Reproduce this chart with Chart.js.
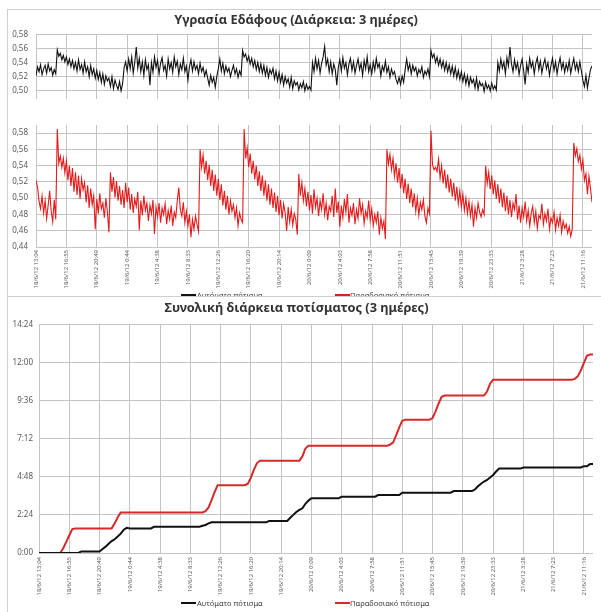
<!DOCTYPE html>
<html>
<head>
<meta charset="utf-8">
<script src="https://cdn.jsdelivr.net/npm/chart.js@4.4.0/dist/chart.umd.min.js"></script>
<style>
  body { margin: 0; width: 601px; height: 612px; overflow: hidden; position: relative; background: #fff; font-family: "Noto Sans", sans-serif; }
  .panel { position: absolute; left: 7px; width: 600px; border-left: 1px solid #cfcfcf; border-top: 1px solid #cfcfcf; background: #fff; }
  #panel1 { top: 9px; height: 290px; z-index: 0; }
  #panel2 { top: 296px; height: 320px; z-index: 2; }
  canvas { position: absolute; left: 0; }
  .legend { position: absolute; font-size: 7.5px; color: #404040; white-space: nowrap; line-height: 10px; }
  .legend .ln { position: absolute; top: 4px; width: 15px; height: 2px; }
  .legend .tx { position: absolute; top: 0; }
</style>
</head>
<body>
<div class="panel" id="panel1"></div>
<canvas id="moistAuto" width="601" height="112" style="top:0; z-index:1"></canvas>
<canvas id="moistTrad" width="601" height="179" style="top:112px; z-index:1"></canvas>
<div class="legend" style="top:290px; left:0; z-index:1">
  <span class="ln" style="left:181px; background:#111"></span><span class="tx" style="left:197px">Αυτόματο πότισμα</span>
  <span class="ln" style="left:335px; background:#e31b1b"></span><span class="tx" style="left:350px">Παραδοσιακό πότισμα</span>
</div>
<div class="panel" id="panel2"></div>
<canvas id="totalChart" width="601" height="299" style="top:298px; z-index:3"></canvas>
<div class="legend" style="top:598px; left:0; z-index:3">
  <span class="ln" style="left:181px; background:#111"></span><span class="tx" style="left:197px">Αυτόματο πότισμα</span>
  <span class="ln" style="left:335px; background:#d42a2a"></span><span class="tx" style="left:350px">Παραδοσιακό πότισμα</span>
</div>
<script>
const tickLabels = [
  "18/6/12 13:04", "18/6/12 16:55", "18/6/12 20:49", "19/6/12 0:44", "19/6/12 4:38",
  "19/6/12 8:33", "19/6/12 12:26", "19/6/12 16:20", "19/6/12 20:14", "20/6/12 0:09",
  "20/6/12 4:03", "20/6/12 7:58", "20/6/12 11:51", "20/6/12 15:45", "20/6/12 19:39",
  "20/6/12 23:33", "21/6/12 3:28", "21/6/12 7:23", "21/6/12 11:16"
];
// moisture readings: 20 per labelled interval, watering totals: 10 per interval
const moistPerTick = 20;
const totalPerTick = 10;

// soil moisture, automatic irrigation
const moistureAuto = [
  0.521, 0.534, 0.527, 0.537, 0.523, 0.531, 0.536, 0.525, 0.538, 0.528, 0.533, 0.522, 0.530, 0.524, 0.558, 0.549, 0.553, 0.544, 0.550, 0.541,
  0.548, 0.537, 0.545, 0.534, 0.543, 0.531, 0.540, 0.528, 0.544, 0.530, 0.537, 0.525, 0.541, 0.527, 0.534, 0.520, 0.536, 0.523, 0.531, 0.518,
  0.529, 0.516, 0.526, 0.512, 0.524, 0.509, 0.521, 0.514, 0.518, 0.506, 0.520, 0.503, 0.515, 0.508, 0.502, 0.513, 0.500, 0.510, 0.533, 0.541,
  0.528, 0.545, 0.531, 0.548, 0.525, 0.540, 0.562, 0.532, 0.546, 0.527, 0.541, 0.522, 0.544, 0.530, 0.537, 0.508, 0.540, 0.526, 0.548, 0.533,
  0.543, 0.524, 0.539, 0.547, 0.529, 0.536, 0.521, 0.545, 0.531, 0.540, 0.526, 0.548, 0.534, 0.542, 0.523, 0.538, 0.530, 0.546, 0.527, 0.535,
  0.515, 0.534, 0.544, 0.528, 0.541, 0.530, 0.536, 0.524, 0.539, 0.527, 0.533, 0.521, 0.529, 0.518, 0.508, 0.522, 0.512, 0.519, 0.505, 0.520,
  0.531, 0.545, 0.528, 0.539, 0.524, 0.535, 0.527, 0.532, 0.520, 0.529, 0.536, 0.524, 0.531, 0.519, 0.528, 0.522, 0.557, 0.548, 0.552, 0.542,
  0.549, 0.538, 0.546, 0.534, 0.543, 0.530, 0.540, 0.527, 0.538, 0.525, 0.536, 0.522, 0.533, 0.519, 0.530, 0.524, 0.532, 0.517, 0.528, 0.514,
  0.526, 0.512, 0.523, 0.508, 0.520, 0.511, 0.517, 0.505, 0.519, 0.503, 0.514, 0.508, 0.512, 0.501, 0.510, 0.504, 0.513, 0.500, 0.509, 0.502,
  0.506, 0.501, 0.540, 0.527, 0.546, 0.531, 0.543, 0.525, 0.539, 0.548, 0.563, 0.536, 0.545, 0.527, 0.541, 0.524, 0.538, 0.530, 0.508, 0.533,
  0.544, 0.528, 0.547, 0.532, 0.540, 0.523, 0.538, 0.546, 0.529, 0.541, 0.525, 0.536, 0.545, 0.530, 0.539, 0.522, 0.543, 0.531, 0.548, 0.527,
  0.537, 0.524, 0.541, 0.529, 0.546, 0.533, 0.539, 0.521, 0.535, 0.528, 0.542, 0.526, 0.534, 0.519, 0.531, 0.523, 0.527, 0.516, 0.510, 0.519,
  0.509, 0.521, 0.512, 0.530, 0.545, 0.529, 0.538, 0.524, 0.536, 0.528, 0.533, 0.521, 0.530, 0.525, 0.534, 0.519, 0.528, 0.523, 0.531, 0.520,
  0.557, 0.547, 0.552, 0.540, 0.548, 0.536, 0.545, 0.533, 0.542, 0.529, 0.540, 0.527, 0.537, 0.524, 0.535, 0.521, 0.533, 0.518, 0.529, 0.516,
  0.527, 0.513, 0.524, 0.510, 0.521, 0.507, 0.519, 0.511, 0.516, 0.504, 0.518, 0.502, 0.513, 0.507, 0.510, 0.499, 0.512, 0.503, 0.508, 0.500,
  0.511, 0.502, 0.507, 0.501, 0.540, 0.528, 0.545, 0.532, 0.541, 0.524, 0.547, 0.535, 0.562, 0.538, 0.527, 0.544, 0.531, 0.540, 0.523, 0.536,
  0.545, 0.528, 0.509, 0.538, 0.526, 0.546, 0.533, 0.541, 0.524, 0.539, 0.547, 0.530, 0.542, 0.525, 0.537, 0.545, 0.531, 0.540, 0.522, 0.536,
  0.546, 0.529, 0.541, 0.524, 0.537, 0.547, 0.531, 0.540, 0.526, 0.538, 0.529, 0.543, 0.525, 0.536, 0.546, 0.530, 0.539, 0.527, 0.541, 0.528,
  0.515, 0.506, 0.522, 0.504, 0.518, 0.530, 0.535
];

// soil moisture, traditional irrigation
const moistureTrad = [
  0.522, 0.514, 0.496, 0.487, 0.503, 0.482, 0.497, 0.475, 0.491, 0.509, 0.484, 0.471, 0.498, 0.474, 0.585, 0.543, 0.552, 0.538, 0.549, 0.531,
  0.546, 0.522, 0.540, 0.515, 0.537, 0.508, 0.532, 0.504, 0.528, 0.499, 0.524, 0.510, 0.519, 0.495, 0.516, 0.488, 0.512, 0.492, 0.503, 0.462,
  0.499, 0.481, 0.506, 0.487, 0.494, 0.476, 0.500, 0.483, 0.458, 0.532, 0.508, 0.526, 0.501, 0.521, 0.497, 0.515, 0.492, 0.510, 0.488, 0.519,
  0.495, 0.513, 0.486, 0.505, 0.482, 0.499, 0.490, 0.508, 0.461, 0.497, 0.479, 0.503, 0.485, 0.494, 0.472, 0.491, 0.481, 0.498, 0.456, 0.489,
  0.477, 0.494, 0.470, 0.488, 0.480, 0.493, 0.468, 0.485, 0.474, 0.491, 0.466, 0.483, 0.476, 0.497, 0.513, 0.486, 0.478, 0.495, 0.470, 0.484,
  0.466, 0.480, 0.452, 0.474, 0.462, 0.478, 0.468, 0.459, 0.560, 0.538, 0.553, 0.530, 0.546, 0.522, 0.541, 0.515, 0.535, 0.509, 0.529, 0.503,
  0.524, 0.498, 0.517, 0.491, 0.509, 0.486, 0.503, 0.480, 0.497, 0.484, 0.492, 0.476, 0.488, 0.466, 0.482, 0.474, 0.470, 0.585, 0.549, 0.562,
  0.538, 0.555, 0.530, 0.546, 0.523, 0.540, 0.515, 0.533, 0.509, 0.528, 0.503, 0.522, 0.497, 0.517, 0.492, 0.512, 0.488, 0.507, 0.483, 0.503,
  0.479, 0.498, 0.475, 0.493, 0.482, 0.460, 0.489, 0.471, 0.486, 0.467, 0.481, 0.474, 0.455, 0.530, 0.503, 0.519, 0.497, 0.512, 0.490, 0.508,
  0.485, 0.504, 0.481, 0.511, 0.489, 0.500, 0.478, 0.497, 0.486, 0.506, 0.480, 0.494, 0.473, 0.490, 0.484, 0.503, 0.477, 0.512, 0.482, 0.496,
  0.465, 0.491, 0.476, 0.499, 0.483, 0.505, 0.470, 0.488, 0.479, 0.494, 0.468, 0.486, 0.475, 0.500, 0.481, 0.492, 0.469, 0.484, 0.476, 0.497,
  0.473, 0.487, 0.466, 0.480, 0.470, 0.484, 0.455, 0.476, 0.463, 0.472, 0.450, 0.560, 0.542, 0.554, 0.535, 0.549, 0.527, 0.543, 0.519, 0.537,
  0.512, 0.530, 0.506, 0.524, 0.499, 0.518, 0.494, 0.512, 0.489, 0.506, 0.484, 0.500, 0.479, 0.495, 0.486, 0.498, 0.478, 0.470, 0.488, 0.481,
  0.583, 0.541, 0.535, 0.538, 0.533, 0.548, 0.525, 0.540, 0.518, 0.535, 0.512, 0.529, 0.507, 0.524, 0.502, 0.519, 0.497, 0.514, 0.493, 0.509,
  0.489, 0.505, 0.485, 0.500, 0.481, 0.496, 0.478, 0.492, 0.465, 0.488, 0.476, 0.494, 0.483, 0.477, 0.486, 0.480, 0.540, 0.518, 0.532, 0.511,
  0.528, 0.505, 0.522, 0.499, 0.517, 0.494, 0.512, 0.489, 0.507, 0.484, 0.503, 0.480, 0.498, 0.477, 0.494, 0.486, 0.505, 0.474, 0.491, 0.470,
  0.488, 0.477, 0.496, 0.472, 0.485, 0.466, 0.482, 0.490, 0.470, 0.484, 0.463, 0.479, 0.475, 0.493, 0.468, 0.481, 0.472, 0.487, 0.462, 0.476,
  0.470, 0.483, 0.461, 0.476, 0.466, 0.479, 0.458, 0.472, 0.463, 0.468, 0.457, 0.465, 0.453, 0.462, 0.568, 0.552, 0.561, 0.545, 0.553, 0.536,
  0.547, 0.522, 0.530, 0.505, 0.527, 0.512, 0.495
];

// cumulative watering time in minutes
const totalAuto = [
  0, 0, 0, 0, 0, 0, 0, 0, 0, 0,
  0, 0, 0, 0, 6, 6, 6, 6, 6, 6,
  6, 15, 24, 35, 45, 52, 62, 73, 88, 95,
  93, 93, 93, 93, 93, 93, 93, 93, 99, 99,
  99, 99, 99, 99, 99, 99, 99, 99, 99, 99,
  99, 99, 99, 99, 103, 106, 112, 116, 116, 116,
  116, 116, 116, 116, 116, 116, 116, 116, 116, 116,
  116, 116, 116, 116, 116, 116, 121, 121, 121, 121,
  121, 121, 121, 133, 144, 155, 163, 169, 186, 198,
  207, 207, 207, 207, 207, 207, 207, 207, 207, 207,
  213, 213, 213, 213, 213, 213, 213, 213, 213, 213,
  213, 213, 219, 219, 219, 219, 219, 219, 219, 219,
  228, 228, 228, 228, 228, 228, 228, 228, 228, 228,
  228, 228, 228, 228, 228, 228, 228, 234, 234, 234,
  234, 234, 234, 234, 240, 252, 262, 270, 276, 285,
  295, 308, 319, 319, 319, 319, 319, 319, 319, 319,
  323, 323, 323, 323, 323, 323, 323, 323, 323, 323,
  323, 323, 323, 323, 323, 323, 323, 323, 323, 323,
  328, 328, 336, 336
];
const totalTrad = [
  0, 0, 0, 0, 0, 0, 0, 0, 18, 42,
  66, 90, 93, 93, 93, 93, 93, 93, 93, 93,
  93, 93, 93, 93, 93, 112, 135, 153, 153, 153,
  153, 153, 153, 153, 153, 153, 153, 153, 153, 153,
  153, 153, 153, 153, 153, 153, 153, 153, 153, 153,
  153, 153, 153, 153, 153, 158, 172, 200, 230, 256,
  256, 256, 256, 256, 256, 256, 256, 256, 256, 262,
  285, 315, 340, 349, 349, 349, 349, 349, 349, 349,
  349, 349, 349, 349, 349, 349, 349, 365, 395, 405,
  405, 405, 405, 405, 405, 405, 405, 405, 405, 405,
  405, 405, 405, 405, 405, 405, 405, 405, 405, 405,
  405, 405, 405, 405, 405, 405, 410, 418, 445, 475,
  500, 504, 504, 504, 504, 504, 504, 504, 504, 504,
  510, 535, 565, 590, 595, 595, 595, 595, 595, 595,
  595, 595, 595, 595, 595, 595, 595, 595, 610, 640,
  655, 655, 655, 655, 655, 655, 655, 655, 655, 655,
  655, 655, 655, 655, 655, 655, 655, 655, 655, 655,
  655, 655, 655, 655, 655, 655, 655, 658, 668, 690,
  718, 745, 750, 750
];

// sample positions on a linear x axis
const moistIndex = moistureAuto.map((v, i) => i);
const totalIndex = totalAuto.map((v, i) => i);

const gridGray = '#c4c4c4';
const tickFont = { family: 'Noto Sans', size: 8 };
const xFont = { family: 'Noto Sans', size: 6 };
const titleFont = { family: 'Noto Sans', size: 12.8, weight: 'bold' };
const comma = v => v.toFixed(2).replace('.', ',');
const hhmm = v => Math.floor(v / 60) + ':' + String(v % 60).padStart(2, '0');

function xAxis(perTick, last, showLabels, height, pad) {
  return {
    type: 'linear', min: 0, max: last,
    ticks: {
      display: showLabels, stepSize: perTick, includeBounds: false, autoSkip: false,
      minRotation: 90, maxRotation: 90, font: xFont, color: '#595959', padding: pad,
      callback: v => tickLabels[Math.round(v / perTick)]
    },
    grid: { color: gridGray, drawTicks: false },
    border: { display: false },
    afterFit: s => { s.height = height; }
  };
}

function lineSet(label, data, color, width) {
  return { label: label, data: data, borderColor: color, borderWidth: width, pointRadius: 0, tension: 0, fill: false };
}

const common = { responsive: false, animation: false, events: [] };

new Chart(document.getElementById('moistAuto'), {
  type: 'line',
  data: { labels: moistIndex, datasets: [lineSet('Αυτόματο πότισμα', moistureAuto, '#111', 1.1)] },
  options: Object.assign({}, common, {
    layout: { padding: { left: 0, right: 9, top: 0, bottom: 2 } },
    plugins: {
      legend: { display: false },
      tooltip: { enabled: false },
      title: { display: true, text: 'Υγρασία Εδάφους (Διάρκεια: 3 ημέρες)', font: titleFont, color: '#333', padding: { top: 13, bottom: 6 } }
    },
    scales: {
      x: xAxis(moistPerTick, moistIndex.length - 1, false, 0, 0),
      y: {
        min: 0.488, max: 0.58,
        ticks: { stepSize: 0.02, includeBounds: false, callback: comma, font: tickFont, color: '#595959', padding: 8 },
        grid: { color: gridGray, drawTicks: false }, border: { display: false },
        afterFit: s => { s.width = 36; }
      }
    }
  })
});

new Chart(document.getElementById('moistTrad'), {
  type: 'line',
  data: { labels: moistIndex, datasets: [lineSet('Παραδοσιακό πότισμα', moistureTrad, '#e31b1b', 1.1)] },
  options: Object.assign({}, common, {
    layout: { padding: { left: 0, right: 9, top: 13, bottom: 0 } },
    plugins: { legend: { display: false }, tooltip: { enabled: false } },
    scales: {
      x: xAxis(moistPerTick, moistIndex.length - 1, true, 44, 3),
      y: {
        min: 0.44, max: 0.59,
        ticks: { stepSize: 0.02, includeBounds: false, callback: comma, font: tickFont, color: '#595959', padding: 8 },
        grid: { color: gridGray, drawTicks: false }, border: { display: false },
        afterFit: s => { s.width = 36; }
      }
    }
  })
});

new Chart(document.getElementById('totalChart'), {
  type: 'line',
  data: {
    labels: totalIndex,
    datasets: [
      lineSet('Αυτόματο πότισμα', totalAuto, '#111', 2),
      lineSet('Παραδοσιακό πότισμα', totalTrad, '#d42a2a', 2)
    ]
  },
  options: Object.assign({}, common, {
    layout: { padding: { left: 0, right: 8, top: 0, bottom: 0 } },
    plugins: {
      legend: { display: false },
      tooltip: { enabled: false },
      title: { display: true, text: 'Συνολική διάρκεια ποτίσματος (3 ημέρες)', font: titleFont, color: '#333', padding: { top: 3, bottom: 8 } }
    },
    scales: {
      x: xAxis(totalPerTick, totalIndex.length - 1, true, 44, 4),
      y: {
        min: 0, max: 864,
        ticks: { stepSize: 144, callback: hhmm, font: tickFont, color: '#595959', padding: 6 },
        grid: { color: gridGray, drawTicks: false }, border: { display: false },
        afterFit: s => { s.width = 39; }
      }
    }
  })
});
</script>
</body>
</html>
